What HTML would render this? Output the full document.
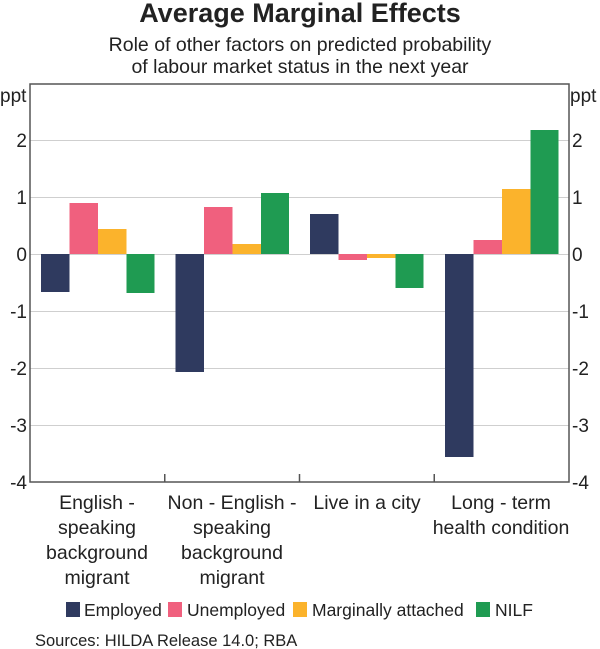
<!DOCTYPE html>
<html><head><meta charset="utf-8"><style>body{margin:0;background:#fff}svg{display:block}text{font-family:"Liberation Sans",Arial,sans-serif;fill:#222}</style></head><body>
<svg width="600" height="649" viewBox="0 0 600 649" xmlns="http://www.w3.org/2000/svg">
<text x="300" y="22" font-size="27" font-weight="bold" text-anchor="middle">Average Marginal Effects</text>
<text x="300" y="51" font-size="19.5" text-anchor="middle">Role of other factors on predicted probability</text>
<text x="300" y="73" font-size="19.5" text-anchor="middle">of labour market status in the next year</text>
<g stroke="#cfcfcf" stroke-width="1">
<line x1="30" x2="569" y1="140.5" y2="140.5"/><line x1="30" x2="569" y1="197.5" y2="197.5"/><line x1="30" x2="569" y1="254.5" y2="254.5"/><line x1="30" x2="569" y1="311.5" y2="311.5"/><line x1="30" x2="569" y1="368.5" y2="368.5"/><line x1="30" x2="569" y1="425.5" y2="425.5"/>
</g>
<g>
<rect x="41" y="254" width="28.5" height="38" fill="#2f3a5f"/>
<rect x="69.5" y="203" width="28.5" height="51" fill="#f0607e"/>
<rect x="98" y="229" width="28.5" height="25" fill="#fbb32c"/>
<rect x="126.5" y="254" width="28" height="39" fill="#1f9b52"/>
<rect x="175.5" y="254" width="28.5" height="118" fill="#2f3a5f"/>
<rect x="204" y="207" width="28.5" height="47" fill="#f0607e"/>
<rect x="232.5" y="244" width="28.5" height="10" fill="#fbb32c"/>
<rect x="261" y="193" width="28" height="61" fill="#1f9b52"/>
<rect x="310" y="214" width="28.5" height="40" fill="#2f3a5f"/>
<rect x="338.5" y="254" width="28.5" height="6" fill="#f0607e"/>
<rect x="367" y="254" width="28.5" height="4" fill="#fbb32c"/>
<rect x="395.5" y="254" width="28" height="34" fill="#1f9b52"/>
<rect x="445" y="254" width="28.5" height="203" fill="#2f3a5f"/>
<rect x="473.5" y="240" width="28.5" height="14" fill="#f0607e"/>
<rect x="502" y="189" width="28.5" height="65" fill="#fbb32c"/>
<rect x="530.5" y="130" width="28" height="124" fill="#1f9b52"/>
</g>
<g stroke="#555" stroke-width="1.5" fill="none">
<rect x="30" y="84" width="539" height="398"/>
<line x1="164.75" x2="164.75" y1="474" y2="482"/><line x1="299.5" x2="299.5" y1="474" y2="482"/><line x1="434.25" x2="434.25" y1="474" y2="482"/>
</g>
<g font-size="19">
<text x="0" y="102">ppt</text><text x="570" y="102">ppt</text>
<g text-anchor="end">
<text x="27" y="147">2</text><text x="27" y="204">1</text><text x="27" y="261">0</text><text x="27" y="318">-1</text><text x="27" y="375">-2</text><text x="27" y="432">-3</text><text x="27" y="489">-4</text>
</g>
<text x="572" y="147">2</text><text x="572" y="204">1</text><text x="572" y="261">0</text><text x="572" y="318">-1</text><text x="572" y="375">-2</text><text x="572" y="432">-3</text><text x="572" y="489">-4</text>
</g>
<g font-size="19.5" text-anchor="middle">
<text x="97" y="509">English -</text><text x="97" y="534">speaking</text><text x="97" y="559">background</text><text x="97" y="584">migrant</text>
<text x="232" y="509">Non - English -</text><text x="232" y="534">speaking</text><text x="232" y="559">background</text><text x="232" y="584">migrant</text>
<text x="367" y="509">Live in a city</text>
<text x="501" y="509">Long - term</text><text x="501" y="534">health condition</text>
</g>
<g font-size="17.5">
<rect x="66" y="602" width="14" height="15" fill="#2f3a5f"/><text x="84" y="616">Employed</text>
<rect x="168" y="602" width="14" height="15" fill="#f0607e"/><text x="187" y="616">Unemployed</text>
<rect x="293" y="602" width="14" height="15" fill="#fbb32c"/><text x="312" y="616">Marginally attached</text>
<rect x="476" y="602" width="14" height="15" fill="#1f9b52"/><text x="495" y="616">NILF</text>
</g>
<text x="35" y="646" font-size="16.5">Sources:  HILDA Release 14.0; RBA</text>
</svg>
</body></html>
